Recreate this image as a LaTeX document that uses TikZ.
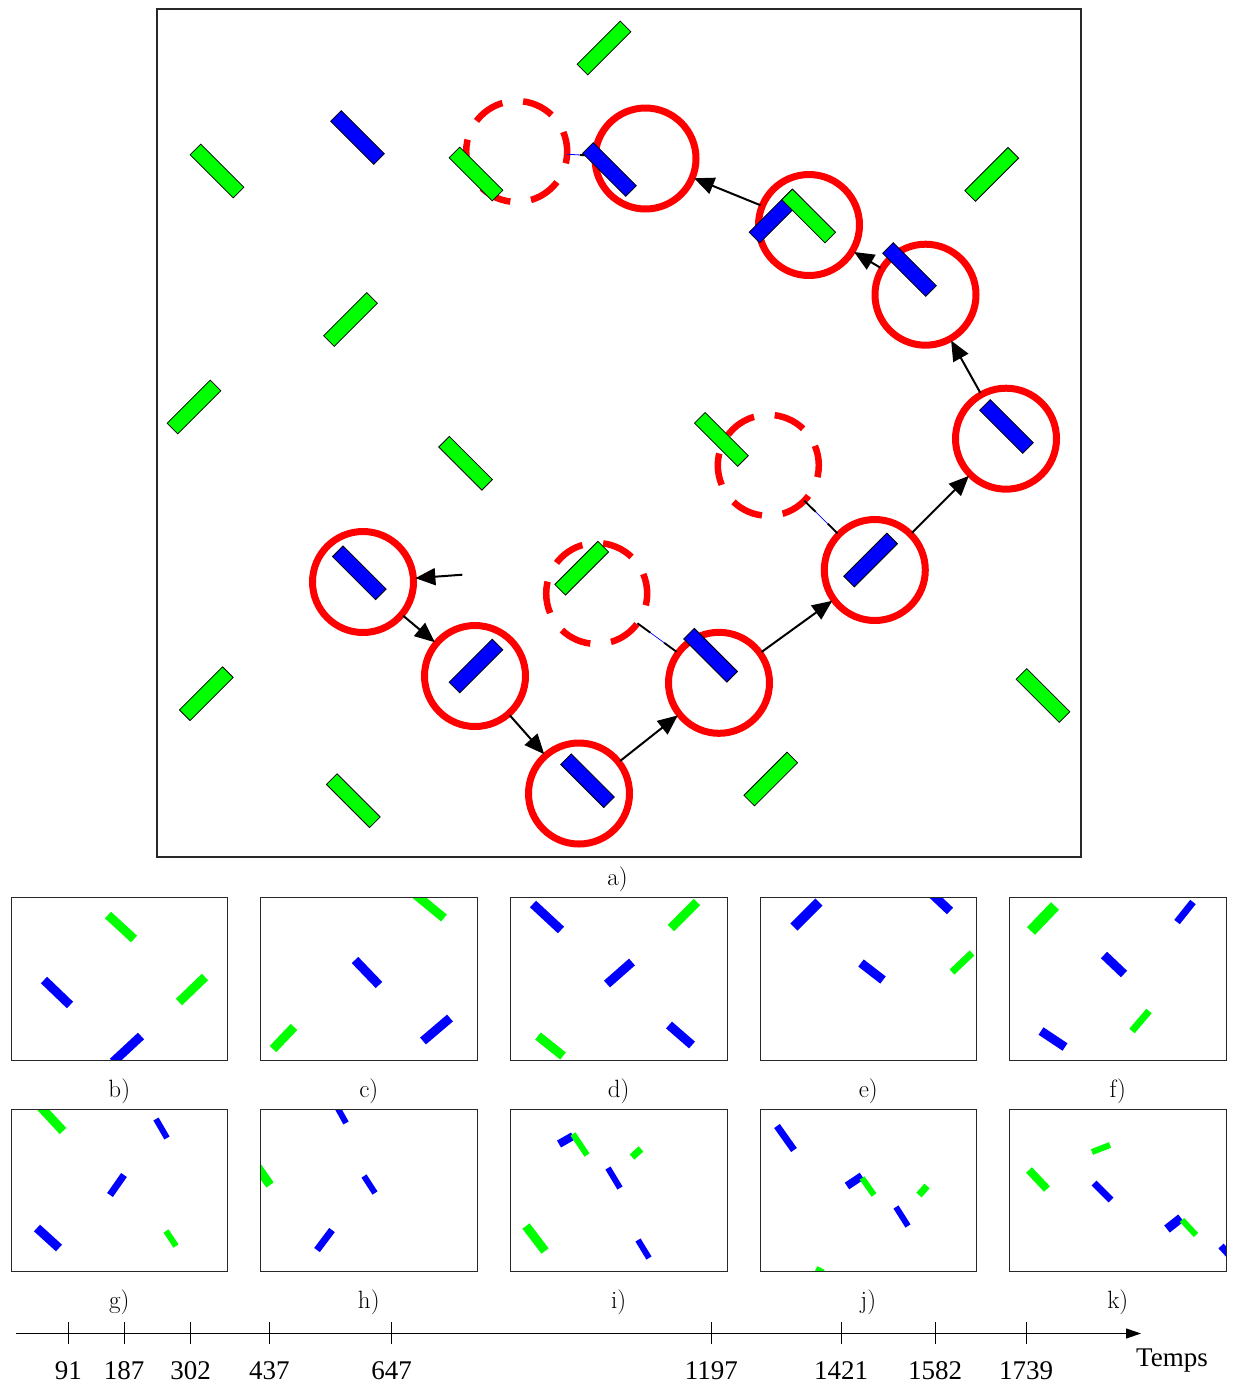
\documentclass[tikz,border=0pt]{standalone}
\usepackage{fontspec}
\newfontfamily\timesf{Liberation Serif}
\usetikzlibrary{arrows.meta}
\definecolor{gr}{RGB}{0,255,0}
\definecolor{bl}{RGB}{0,0,255}
\definecolor{rd}{RGB}{255,0,0}
\definecolor{frame}{RGB}{40,40,40}
\tikzset{
  circ/.style={circle, draw=rd, line width=7pt, minimum size=101pt, inner sep=0pt, outer sep=2pt},
  dcirc/.style={circle, draw=rd, line width=6.5pt, minimum size=101pt, inner sep=0pt, outer sep=0pt, dash pattern=on 32pt off 20.88pt, dash phase=12pt},
  grect/.style={rectangle, draw=black, line width=0.8pt, fill=gr, minimum width=61pt, minimum height=15pt, inner sep=0pt},
  brect/.style={grect, fill=bl},
  arr/.style={line width=2pt, -{Triangle[length=20pt,width=17pt]}},
  link/.style={line width=1.8pt, black},
  gbar/.style={draw=gr, line width=9pt},
  bbar/.style={draw=bl, line width=9pt},
  panel/.style={draw=frame, line width=1pt},
  lab/.style={font=\fontsize{25}{30}\selectfont, anchor=base, inner sep=0pt},
  num/.style={font=\timesf\fontsize{27}{32}\selectfont, anchor=base, inner sep=0pt},
}
\begin{document}
\begin{tikzpicture}[x=1pt,y=-1pt]
\useasboundingbox (0,0) rectangle (1234,1385);
% main frame
\draw[frame, line width=1.6pt] (157,9) rectangle (1081,857);
% circles
\node[circ] (A) at (363,582) {};
\node[circ] (B) at (475,676) {};
\node[circ] (C) at (579,793.5) {};
\node[circ] (D) at (719,682.8) {};
\node[circ] (E) at (874.8,570) {};
\node[circ] (F) at (1006,438.7) {};
\node[circ] (G) at (925.5,294.7) {};
\node[circ] (H) at (809,225) {};
\node[circ] (I) at (645.5,158.5) {};
\node[dcirc] (J1) at (516.7,151.5) {};
\node[dcirc] (J2) at (596.7,593.5) {};
\node[dcirc] (J3) at (768.3,465.3) {};
% links from dashed circles
\draw[bl, line width=0.7pt] (J2) -- (D);
\draw[link, dash pattern=on 16pt off 17pt on 16pt off 200pt] (J2) -- (D);
\draw[bl, line width=0.7pt] (J3) -- (E);
\draw[link, dash pattern=on 16pt off 17pt on 16pt off 200pt] (J3) -- (E);
\draw[bl, line width=0.8pt] (J1) -- (I);
\draw[link, line width=2pt, dash pattern=on 0pt off 13pt on 16pt off 200pt] (J1) -- (I);
% green rectangles
\node[grect, rotate=45]  (g1)  at (604,48) {};
\node[grect, rotate=-45] (g2)  at (217,171) {};
\node[grect, rotate=-45] (g3)  at (476,174) {};
\node[grect, rotate=45]  (g4)  at (350.5,319.5) {};
\node[grect, rotate=45]  (g5)  at (194,407) {};
\node[grect, rotate=-45] (g6)  at (465.6,463.3) {};
\node[grect, rotate=45]  (g7)  at (581.7,568.2) {};
\node[grect, rotate=-45] (g8)  at (721.4,439.4) {};
\node[grect, rotate=45]  (g9)  at (991.7,174.4) {};
\node[grect, rotate=45]  (g11) at (206.3,693.7) {};
\node[grect, rotate=-45] (g12) at (353.3,800.7) {};
\node[grect, rotate=45]  (g13) at (770.8,779) {};
\node[grect, rotate=-45] (g14) at (1043,695.5) {};
% blue rectangles
\node[brect, rotate=-45] (b1)  at (357.5,137.5) {};
\node[brect, rotate=-45] (b2)  at (609.5,169.5) {};
\node[brect, rotate=45]  (b3)  at (776,216) {};
\node[grect, rotate=-45] (g10) at (808.7,216) {};
\node[brect, rotate=-45] (b4)  at (909.5,269.5) {};
\node[brect, rotate=-45] (b5)  at (1006.5,426.5) {};
\node[brect, rotate=45]  (b6)  at (870.6,560) {};
\node[brect, rotate=-45] (b7)  at (710.6,655.2) {};
\node[brect, rotate=-45] (b8)  at (587.5,780.7) {};
\node[brect, rotate=45]  (b9)  at (476,666) {};
\node[brect, rotate=-45] (b10) at (359.3,572.8) {};
% arrows
\coordinate (a0) at (462.3,574.7);
\draw[arr] (a0) -- (A);
\draw[arr] (A) -- (B);
\draw[arr] (B) -- (C);
\draw[arr] (C) -- (D);
\draw[arr] (D) -- (E);
\draw[arr] (E) -- (F);
\draw[arr] (F) -- (G);
\draw[arr] (G) -- (H);
\draw[arr] (H) -- (I);
\node[lab] (la) at (617.5,885) {a)};
% ---------- small panels, row 1 ----------
\begin{scope}
\clip (11,897.7) rectangle (227.7,1060.3);
\draw[gbar] (108,915) -- (134,939);
\draw[bbar] (44,980) -- (70,1005);
\draw[gbar] (179,1002) -- (205,977);
\draw[bbar] (113,1062) -- (141,1036);
\end{scope}
\draw[panel] (11,897.7) rectangle (227.7,1060.3);
\begin{scope}
\clip (260.3,897.7) rectangle (477.3,1060.3);
\draw[gbar] (416,895) -- (444,918);
\draw[bbar] (355,960) -- (379,985);
\draw[gbar] (273,1049) -- (294,1027);
\draw[bbar] (423,1041) -- (450,1018);
\end{scope}
\draw[panel] (260.3,897.7) rectangle (477.3,1060.3);
\begin{scope}
\clip (510.3,897.7) rectangle (727,1060.3);
\draw[bbar] (533,904) -- (561,930);
\draw[gbar] (671,928) -- (697,902);
\draw[bbar] (607,984) -- (632,962);
\draw[gbar] (538,1036) -- (563,1056);
\draw[bbar] (669,1025) -- (692,1045);
\end{scope}
\draw[panel] (510.3,897.7) rectangle (727,1060.3);
\begin{scope}
\clip (760,897.7) rectangle (976.7,1060.3);
\draw[bbar, line width=10pt] (794,927) -- (819,902);
\draw[bbar] (932,894) -- (950,911);
\draw[bbar] (861,963) -- (883,980);
\draw[gbar, line width=7pt] (952,972) -- (972,953);
\end{scope}
\draw[panel] (760,897.7) rectangle (976.7,1060.3);
\begin{scope}
\clip (1009.3,897.7) rectangle (1226.3,1060.3);
\draw[gbar, line width=11pt] (1031,931) -- (1055,906);
\draw[bbar, line width=7pt] (1177,922) -- (1193,902);
\draw[bbar] (1104,955) -- (1124,974);
\draw[gbar, line width=7pt] (1132,1031) -- (1149,1011);
\draw[bbar] (1041,1031) -- (1065,1047);
\end{scope}
\draw[panel] (1009.3,897.7) rectangle (1226.3,1060.3);
% ---------- small panels, row 2 ----------
\begin{scope}
\clip (11,1109) rectangle (227.7,1271.7);
\draw[gbar] (36,1102) -- (63,1131);
\draw[bbar, line width=6pt] (156,1119) -- (167,1138);
\draw[bbar, line width=7pt] (110,1195) -- (124,1175);
\draw[bbar] (37,1228) -- (59,1248);
\draw[gbar, line width=6pt] (166,1231) -- (176,1246);
\end{scope}
\draw[panel] (11,1109) rectangle (227.7,1271.7);
\begin{scope}
\clip (260.3,1109) rectangle (477.3,1271.7);
\draw[bbar, line width=6pt] (336,1105) -- (346,1123);
\draw[gbar] (256,1165) -- (270,1185);
\draw[bbar, line width=6pt] (364,1176) -- (375,1193);
\draw[bbar, line width=7pt] (317,1250) -- (332,1230);
\end{scope}
\draw[panel] (260.3,1109) rectangle (477.3,1271.7);
\begin{scope}
\clip (510.3,1109) rectangle (727,1271.7);
\draw[bbar, line width=8pt] (559,1144) -- (573,1136);
\draw[gbar, line width=6pt] (573,1134) -- (587,1155);
\draw[gbar, line width=7pt] (632,1157) -- (641,1149);
\draw[bbar, line width=6pt] (608,1168) -- (620,1188);
\draw[gbar] (526,1226) -- (545,1251);
\draw[bbar, line width=6pt] (638,1240) -- (649,1258);
\end{scope}
\draw[panel] (510.3,1109) rectangle (727,1271.7);
\begin{scope}
\clip (760,1109) rectangle (976.7,1271.7);
\draw[bbar, line width=7pt] (777,1126) -- (794,1150);
\draw[bbar, line width=8pt] (847,1186) -- (862,1176);
\draw[gbar, line width=6pt] (862,1178) -- (874,1195);
\draw[gbar, line width=7pt] (919,1195) -- (927,1186);
\draw[bbar, line width=6pt] (896,1207) -- (908,1226);
\draw[gbar, line width=8pt] (812,1285) -- (821,1268);
\end{scope}
\draw[panel] (760,1109) rectangle (976.7,1271.7);
\begin{scope}
\clip (1009.3,1109) rectangle (1226.3,1271.7);
\draw[gbar, line width=6pt] (1092,1152) -- (1110,1145);
\draw[gbar, line width=8pt] (1029,1170) -- (1047,1189);
\draw[bbar, line width=7pt] (1094,1183) -- (1111,1200);
\draw[bbar] (1167,1229) -- (1181,1218);
\draw[gbar, line width=6pt] (1182,1220) -- (1196,1235);
\draw[bbar, line width=7pt] (1221,1246) -- (1232,1258);
\end{scope}
\draw[panel] (1009.3,1109) rectangle (1226.3,1271.7);
% panel labels
\node[lab] (lb) at (119.3,1097) {b)};
\node[lab] (lc) at (368.8,1097) {c)};
\node[lab] (ld) at (618.7,1097) {d)};
\node[lab] (le) at (868.3,1097) {e)};
\node[lab] (lf) at (1117.8,1097) {f)};
\node[lab] (lg) at (119.3,1308) {g)};
\node[lab] (lh) at (368.8,1308) {h)};
\node[lab] (li) at (618.7,1308) {i)};
\node[lab] (lj) at (868.3,1308) {j)};
\node[lab] (lk) at (1117.8,1308) {k)};
% timeline
\coordinate (t0) at (15.7,1333.5);
\coordinate (t1) at (1141,1333.5);
\draw[line width=1.1pt, -{Triangle[length=15pt,width=10pt]}] (t0) -- (t1);
\foreach \x/\t in {68.3/91, 124/187, 190.7/302, 269.3/437, 391.7/647, 711.3/1197, 841/1421, 935/1582, 1026/1739}{
  \draw[line width=1pt] (\x,1322.3) -- (\x,1344.3);
  \node[num] at (\x,1379) {\t};
}
\node[num, anchor=base west] (temps) at (1136,1366) {Temps};
\end{tikzpicture}
\end{document}
